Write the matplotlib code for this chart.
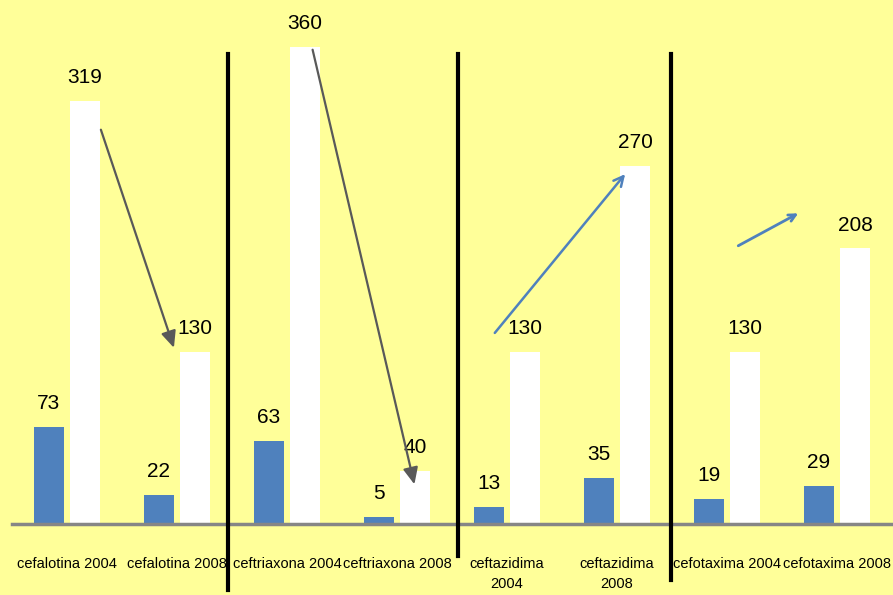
import matplotlib.pyplot as plt
from matplotlib.lines import Line2D
import numpy as np

categories = ["cefalotina 2004", "cefalotina 2008", "ceftriaxona 2004", "ceftriaxona 2008",
              "ceftazidima\n2004", "ceftazidima\n2008", "cefotaxima 2004", "cefotaxima 2008"]
serie_azul = [73, 22, 63, 5, 13, 35, 19, 29]
serie_blanca = [319, 130, 360, 40, 130, 270, 130, 208]

BG = "#FFFF99"
AZUL = "#4F81BD"
GRIS = "#595959"
FAM = ["Liberation Sans", "DejaVu Sans"]

fig = plt.figure(figsize=(8.93, 5.95), dpi=100, facecolor=BG)
ax = fig.add_axes([12 / 893, 71 / 595, 880 / 893, 524 / 595], facecolor=BG)

x = np.arange(len(categories))
w = 0.275
off = 0.164
b1 = ax.bar(x - off, serie_azul, w, color=AZUL, zorder=2)
b2 = ax.bar(x + off, serie_blanca, w, color="white", zorder=2)

for bars, vals in ((b1, serie_azul), (b2, serie_blanca)):
    for r, v in zip(bars, vals):
        ax.annotate(str(v), (r.get_x() + r.get_width() / 2, v), xytext=(0, 10),
                    textcoords="offset points", ha="center", va="bottom",
                    color="black", family=FAM, fontsize=15)

ax.set_xlim(-0.5, 7.5)
ax.set_ylim(0, 395.5)
ax.set_yticks([])
ax.set_xticks(x)
ax.set_xticklabels(categories, family=FAM, fontsize=10.5, linespacing=1.55)
ax.tick_params(axis="x", length=0, pad=24)
for s in ("top", "right", "left"):
    ax.spines[s].set_visible(False)
ax.spines["bottom"].set_color("#868686")
ax.spines["bottom"].set_linewidth(2.5)

# group separators
for xs, ybot in ((1.464, -50), (3.555, -24), (5.49, -42)):
    ax.add_line(Line2D([xs, xs], [354.5, ybot], color="black", lw=3,
                       clip_on=False, zorder=3))

# trend arrows
ax.annotate("", xy=(0.98, 131), xytext=(0.3, 299.6),
            arrowprops=dict(arrowstyle="-|>,head_length=1.0,head_width=0.45",
                            color=GRIS, lw=1.6), zorder=4)
ax.annotate("", xy=(3.164, 27.9), xytext=(2.227, 360),
            arrowprops=dict(arrowstyle="-|>,head_length=1.0,head_width=0.45",
                            color=GRIS, lw=1.6), zorder=4)
ax.annotate("", xy=(5.09, 265.7), xytext=(3.873, 142.6),
            arrowprops=dict(arrowstyle="->,head_length=0.7,head_width=0.35",
                            color=AZUL, lw=1.8), zorder=4)
ax.annotate("", xy=(6.67, 235.5), xytext=(6.08, 209),
            arrowprops=dict(arrowstyle="->,head_length=0.5,head_width=0.25",
                            color=AZUL, lw=2), zorder=4)

fig.savefig("out.png", dpi=100, facecolor=BG)
